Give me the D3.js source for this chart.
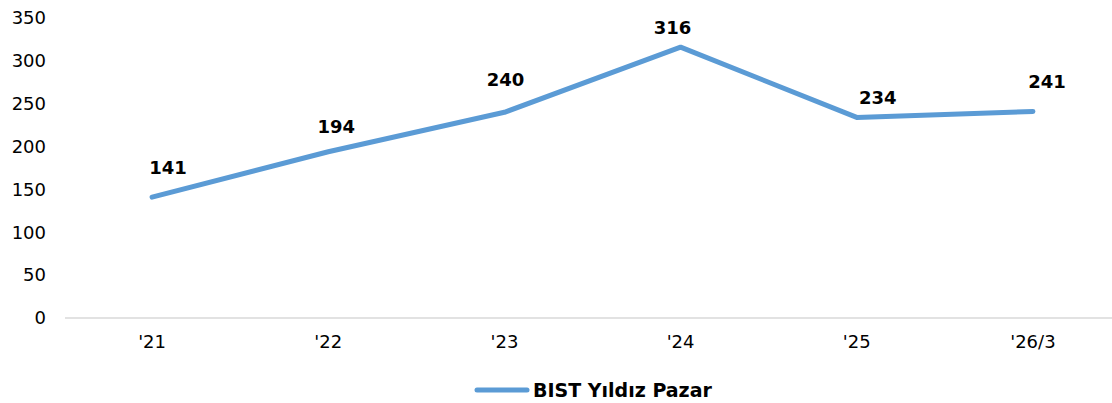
<!DOCTYPE html>
<html><head><meta charset="utf-8">
<script src="https://cdn.jsdelivr.net/npm/d3@7"></script>
<style>body{margin:0;background:#fff;}svg{display:block;font-family:"DejaVu Sans",Verdana,sans-serif;}</style>
</head><body><svg id="c" width="1112" height="403"></svg>
<script>
const categories = ["'21","'22","'23","'24","'25","'26/3"];
const values = [141,194,240,316,234,241];
const yTicks = [0,50,100,150,200,250,300,350];
const seriesName = "BIST Yıldız Pazar";
// label nudges (px) relative to default above-point position
const labelDx = [16,8,1,-8,21,14];
const labelDy = [-18,-13,-21,-8,-8,-18];

const svg = d3.select("#c");
const x = d3.scaleBand().domain(categories).range([64,1121]);
const y = d3.scaleLinear().domain([0,350]).range([318,18]);
const color = "#5B9BD5";

// y labels
svg.append("g").selectAll("text").data(yTicks).join("text")
  .attr("x",46).attr("y",d=>y(d)).attr("dy","0.35em")
  .attr("text-anchor","end").attr("font-size",18).attr("fill","#000").text(d=>d);

// x axis line
svg.append("line").attr("x1",65).attr("x2",1112).attr("y1",y(0)).attr("y2",y(0))
  .attr("stroke","#d9d9d9").attr("stroke-width",1.5);

svg.append("g").selectAll("text").data(categories).join("text")
  .attr("x",d=>x(d)+x.bandwidth()/2).attr("y",342).attr("dy","0.35em")
  .attr("text-anchor","middle").attr("font-size",18).attr("fill","#000").text(d=>d);

const cx = (d,i)=>x(categories[i])+x.bandwidth()/2;
const line = d3.line().x((d,i)=>cx(d,i)).y(d=>y(d));
svg.append("path").datum(values).attr("d",line).attr("fill","none")
  .attr("stroke",color).attr("stroke-width",5).attr("stroke-linecap","round").attr("stroke-linejoin","round");

svg.append("g").selectAll("text").data(values).join("text")
  .attr("x",(d,i)=>cx(d,i)+labelDx[i]).attr("y",(d,i)=>y(d)+labelDy[i]).attr("dy","-0.3em")
  .attr("text-anchor","middle").attr("font-size",18).attr("font-weight","bold").attr("fill","#000").text(d=>d);

// legend
svg.append("line").attr("x1",477).attr("x2",527).attr("y1",390).attr("y2",390)
  .attr("stroke",color).attr("stroke-width",5).attr("stroke-linecap","round");
svg.append("text").attr("x",533).attr("y",390).attr("dy","0.35em").attr("font-size",19)
  .attr("font-weight","bold").attr("fill","#000").text(seriesName);
</script></body></html>
